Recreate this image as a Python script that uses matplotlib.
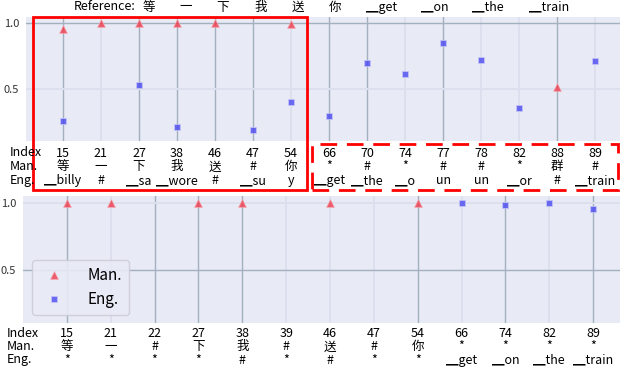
import numpy as np
import matplotlib
matplotlib.use('Agg')
import matplotlib.pyplot as plt
from matplotlib.patches import Rectangle

nan = np.nan

# header tokens of the reference sentence
ref_tokens = ['等', '一', '下', '我', '送', '你', '▁get', '▁on', '▁the', '▁train']

# top panel
top_idx = [15, 21, 27, 38, 46, 47, 54, 66, 70, 74, 77, 78, 82, 88, 89]
top_man_tok = ['等', '一', '下', '我', '送', '#', '你', '*', '#', '*', '#', '#', '*', '群', '#']
top_eng_tok = ['▁billy', '#', '▁sa', '▁wore', '#', '▁su', 'y', '▁get', '▁the', '▁o',
               'un', 'un', '▁or', '#', '▁train']
top_man = [0.95, 1.0, 1.0, 1.0, 1.0, nan, 0.99, nan, nan, nan, nan, nan, nan, 0.513, nan]
top_eng = [0.249, nan, 0.528, 0.206, nan, 0.183, 0.401, 0.287, 0.693, 0.612,
           0.845, 0.718, 0.355, nan, 0.708]
top_dark = [15, 27, 38, 46, 47, 66, 70, 77, 88]

# bottom panel
bot_idx = [15, 21, 22, 27, 38, 39, 46, 47, 54, 66, 74, 82, 89]
bot_man_tok = ['等', '一', '#', '下', '我', '#', '送', '#', '你', '*', '*', '*', '*']
bot_eng_tok = ['*', '*', '*', '*', '#', '*', '#', '*', '*', '▁get', '▁on', '▁the', '▁train']
bot_man = [1.0, 1.0, nan, 1.0, 1.0, nan, 1.0, nan, 1.0, nan, nan, nan, nan]
bot_eng = [nan, nan, nan, nan, nan, nan, nan, nan, nan, 1.0, 0.99, 1.0, 0.96]
bot_dark = [15, 22, 27, 38, 54, 74, 89]

plt.rcParams['font.family'] = ['Noto Sans CJK SC', 'DejaVu Sans']

BG = '#E8EAF6'
DARK = '#A3B0BE'
LIGHT = '#DCE0EE'
RED = '#EE4455'
BLUE = '#4A4AF0'

fig = plt.figure(figsize=(6.2, 3.7), dpi=100)
W, H = 620.0, 370.0


def px_axes(l, t, r, b):
    return fig.add_axes([l / W, 1 - b / H, (r - l) / W, (b - t) / H])


def panel(ax, idx, man_tok, eng_tok, man, eng, dark, xlim, ylim, h_dark, pad, ls):
    x = np.arange(len(idx))
    ax.set_facecolor(BG)
    for s in ax.spines.values():
        s.set_visible(False)
    for i, v in zip(x, idx):
        if v in dark:
            ax.axvline(i, color=DARK, lw=1.0, zorder=1)
        else:
            ax.axvline(i, color=LIGHT, lw=1.4, zorder=1)
    for yv in [0.5, 1.0]:
        if yv == h_dark:
            ax.axhline(yv, color=DARK, lw=1.0, zorder=1)
        else:
            ax.axhline(yv, color=LIGHT, lw=1.4, zorder=1)
    ax.plot(x, man, ls='none', marker='^', ms=6, color=RED, alpha=0.85,
            mec='#F6B0B8', mew=0.5, label='Man.', zorder=3)
    ax.plot(x, eng, ls='none', marker='s', ms=5, color=BLUE, alpha=0.8,
            mec='#C8C8F8', mew=0.6, label='Eng.', zorder=3)
    ax.set_xlim(*xlim)
    ax.set_ylim(*ylim)
    ax.set_xticks(x)
    ax.set_xticklabels(['%d\n%s\n%s' % (a, b, c) for a, b, c in zip(idx, man_tok, eng_tok)],
                       fontsize=9, linespacing=ls)
    ax.set_yticks([0.5, 1.0])
    ax.set_yticklabels(['0.5', '1.0'], fontsize=8, color='#333333')
    ax.tick_params(length=0, pad=pad)
    ax.tick_params(axis='y', pad=5)


ax1 = px_axes(26, 17, 622, 141)
panel(ax1, top_idx, top_man_tok, top_eng_tok, top_man, top_eng, top_dark,
      (-0.97, 14.7), (0.1, 1.045), 1.0, 4, 1.08)
fig.text(10 / W, 1 - 146 / H, 'Index\nMan.\nEng.', fontsize=9, linespacing=1.08,
         ha='left', va='top')

ax2 = px_axes(23, 196, 622, 323)
panel(ax2, bot_idx, bot_man_tok, bot_eng_tok, bot_man, bot_eng, bot_dark,
      (-1.0, 12.66), (0.1, 1.055), 0.5, 3, 1.02)
fig.text(7 / W, 1 - 327 / H, 'Index\nMan.\nEng.', fontsize=9, linespacing=1.02,
         ha='left', va='top')

leg = ax2.legend(loc='lower left', bbox_to_anchor=(0.015, 0.063), borderaxespad=0,
                 fontsize=11, handlelength=2.0, handletextpad=1.2, labelspacing=0.45,
                 borderpad=0.45, frameon=True, fancybox=True)
leg.get_frame().set_facecolor(BG)
leg.get_frame().set_edgecolor('#CCCCD8')
leg.get_frame().set_alpha(0.9)

# reference sentence above the top panel
fig.text(74 / W, 1 - 7 / H, 'Reference:', fontsize=9, ha='left', va='center')
ref_x = [149, 186, 223, 261, 298, 335, 382, 435, 488, 549]
for tok, xp in zip(ref_tokens, ref_x):
    fig.text(xp / W, 1 - 7 / H, tok, fontsize=9, ha='center', va='center')

# highlight boxes
fig.patches.append(Rectangle((33 / W, 1 - 190 / H), 274 / W, 173 / H, fill=False,
                             ec='red', lw=2, transform=fig.transFigure))
fig.patches.append(Rectangle((312 / W, 1 - 190 / H), 306 / W, 46 / H, fill=False,
                             ec='red', lw=2, ls=(0, (6, 3.5)), transform=fig.transFigure))

fig.savefig('out.png', dpi=100)
